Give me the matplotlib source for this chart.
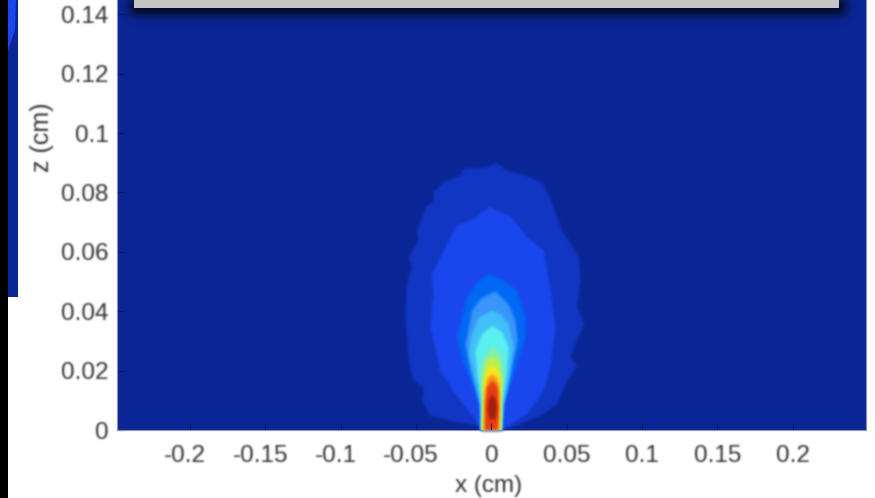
# Contour picture of the plume, x against z, with the cut-off overlay panels
import numpy as np
import matplotlib
matplotlib.use('Agg')
import matplotlib.pyplot as plt
from matplotlib.patches import Rectangle, Polygon
from matplotlib.transforms import ScaledTranslation

plt.rcParams['font.family'] = ['Liberation Sans', 'DejaVu Sans']

# Tick values and labels
x_ticks = [-0.2, -0.15, -0.1, -0.05, 0, 0.05, 0.1, 0.15, 0.2]
x_labels = ['-0.2', '-0.15', '-0.1', '-0.05', '0', '0.05', '0.1', '0.15', '0.2']
z_ticks = [0, 0.02, 0.04, 0.06, 0.08, 0.1, 0.12, 0.14]
z_labels = ['0', '0.02', '0.04', '0.06', '0.08', '0.1', '0.12', '0.14']

# Contour outlines (cm), outermost level first
x1 = [.0071, .0192, .0325, .0436, .0502, .0568, .0524, .0613, .0568, .0591, .0580, .0469, .0414,
      .0347, .0237, .0104, .0027, -.0029, -.0184, -.0206, -.0316, -.0383, -.0383, -.0427, -.0493,
      -.0482, -.0549, -.0526, -.0560, -.0571, -.0560, -.0549, -.0526, -.0449, -.0460, -.0405,
      -.0272, -.0095, -.0068]
z1 = [0, .0020, .0048, .0088, .0166, .0217, .0245, .0357, .0413, .0503, .0587, .0671, .0750,
      .0828, .0856, .0873, .0901, .0884, .0879, .0856, .0834, .0800, .0767, .0755, .0671,
      .0637, .0581, .0548, .0492, .0391, .0312, .0245, .0177, .0138, .0099, .0048,
      .0031, .0015, 0]
x2 = [.0068, .0237, .0347, .0392, .0425, .0392, .0347, .0237, .0126, .0038, -.0007, -.0073, -.0095,
      -.0228, -.0272, -.0361, -.0394, -.0383, -.0405, -.0372, -.0338, -.0239, -.0117, -.0068]
z2 = [0, .0054, .0132, .0211, .0346, .0469, .0604, .0649, .0722, .0738, .0750, .0733, .0716,
      .0688, .0649, .0559, .0525, .0458, .0346, .0278, .0200, .0121, .0043, 0]
x3 = [.0068, .0075, .0137, .0192, .0226, .0226, .0170, .0082, -.0018, -.0095, -.0161, -.0195,
      -.0228, -.0195, -.0139, -.0075, -.0068]
z3 = [0, .0076, .0166, .0256, .0312, .0379, .0469, .0503, .0525, .0497, .0447, .0379,
      .0312, .0245, .0166, .0076, 0]
x4 = [.0068, .0085, .0137, .0175, .0159, .0115, .0027, -.0073, -.0128, -.0157, -.0173, -.0139, -.0075, -.0068]
z4 = [0, .0088, .0211, .0301, .0368, .0424, .0467, .0441, .0402, .0323, .0290, .0200, .0088, 0]
x5 = [.0068, .0075, .0115, .0148, .0115, .0060, .0004, -.0084, -.0135, -.0150, -.0106, -.0068, -.0068]
z5 = [0, .0076, .0166, .0278, .0357, .0391, .0402, .0379, .0312, .0256, .0166, .0076, 0]
x6 = [.0066, .0072, .0104, .0115, .0071, .0004, -.0062, -.0106, -.0095, -.0066, -.0066]
z6 = [0, .0099, .0200, .0278, .0329, .0351, .0323, .0267, .0200, .0099, 0]
x7 = [.0062, .0068, .0086, .0071, .0011, -.0051, -.0073, -.0056, -.0062]
z7 = [0, .0088, .0189, .0250, .0284, .0245, .0189, .0076, 0]
x8 = [.0060, .0064, .0072, .0053, .0004, -.0040, -.0057, -.0056, -.0060]
z8 = [0, .0088, .0177, .0233, .0250, .0228, .0166, .0076, 0]
x9 = [.0056, .0060, .0062, .0044, .0009, -.0031, -.0050, -.0052, -.0056]
z9 = [0, .0076, .0166, .0200, .0217, .0200, .0155, .0076, 0]
x10 = [.0050, .0055, .0052, .0035, .0004, -.0028, -.0044, -.0048, -.0050]
z10 = [0, .0076, .0155, .0177, .0189, .0172, .0132, .0076, 0]
x11 = [.0042, .0048, .0046, .0030, .0004, -.0028, -.0040, -.0042, -.0042]
z11 = [0, .0065, .0132, .0155, .0166, .0144, .0088, .0020, 0]
x12 = [.0038, .0027, .0004, -.0018, -.0024, -.0013, .0027]
z12 = [.0076, .0104, .0121, .0099, .0065, .0037, .0037]

contours_x = [x1, x2, x3, x4, x5, x6, x7, x8, x9, x10, x11, x12]
contours_z = [z1, z2, z3, z4, z5, z6, z7, z8, z9, z10, z11, z12]
level_colors = ['#1237c4', '#1a48ee', '#0069f5', '#3a96fa', '#41c0fa', '#5cf0f0',
                '#84f0aa', '#bef050', '#fae61e', '#fa9614', '#e63c14', '#a01e0f']
background = '#0a2696'
text_color = '#333333'


def gaussian_blur(sigma):
    # agg filter, softens an artist the way the rescaled screenshot is soft
    pad = int(3 * sigma) + 1
    kernel = np.exp(-0.5 * (np.arange(-pad, pad + 1) / sigma) ** 2)
    kernel = kernel / kernel.sum()

    def apply(img, dpi):
        img = np.pad(img, ((pad, pad), (pad, pad), (0, 0)))
        alpha = img[:, :, 3:]
        stack = np.concatenate([img[:, :, :3] * alpha, alpha], axis=2)
        for axis in (0, 1):
            stack = np.apply_along_axis(lambda v: np.convolve(v, kernel, mode='same'), axis, stack)
        alpha = stack[:, :, 3:]
        rgb = stack[:, :, :3] / np.maximum(alpha, 1e-4)
        return np.clip(np.concatenate([rgb, alpha], axis=2), 0, 1), -pad, -pad
    return apply


soft = gaussian_blur(0.9)
W, H = 875, 498

fig = plt.figure(figsize=(W / 100, H / 100), dpi=100, facecolor='white')
ax = fig.add_axes([117 / W, (H - 430) / H, 749 / W, 445.5 / H], facecolor=background)

for xs, zs, col in zip(contours_x, contours_z, level_colors):
    patch = ax.fill(xs, zs, color=col, lw=0)[0]
    patch.set_agg_filter(gaussian_blur(1.4))

ax.set_xlim(-0.2485, 0.2487)
ax.set_ylim(0, 0.15)
ax.set_xticks(x_ticks)
ax.set_xticklabels(x_labels)
ax.set_yticks(z_ticks)
ax.set_yticklabels(z_labels)
ax.tick_params(direction='in', length=5, width=0.8, color='#08185c',
               labelsize=17.5, labelcolor=text_color)
ax.tick_params(axis='x', pad=11)
ax.tick_params(axis='y', pad=6)
for side in ax.spines.values():
    side.set_color('#8f8fb8')
    side.set_linewidth(0.8)
ax.set_xlabel('x (cm)', fontsize=17.5, color=text_color)
ax.set_ylabel('z (cm)', fontsize=18, color=text_color)
ax.xaxis.set_label_coords(0.4967, -0.1)
ax.yaxis.set_label_coords(-0.084, (430 - 137) / 445.5)

# the negative labels sit a little left of their ticks in the reference
shift_left = ScaledTranslation(-5 / 100, 0, fig.dpi_scale_trans)
for item in ax.get_xticklabels():
    if item.get_text().startswith('-'):
        item.set_transform(item.get_transform() + shift_left)

for item in ax.get_xticklabels() + ax.get_yticklabels() + [ax.xaxis.label, ax.yaxis.label]:
    item.set_agg_filter(soft)

# Overlay panels that sit on top of the figure in the screenshot
def px_rect(left, top, right, bottom, **kw):
    return Rectangle((left / W, 1 - bottom / H), (right - left) / W, (bottom - top) / H,
                     transform=fig.transFigure, lw=0, **kw)


shadow = px_rect(130, -30, 846, 14, color='black', alpha=0.95, zorder=3)
shadow.set_agg_filter(gaussian_blur(5.5))
fig.add_artist(shadow)
fig.add_artist(px_rect(134, -5, 839, 8, color='#c4c4c4', zorder=4))

fig.add_artist(px_rect(8, 0, 18, 297, color=background, zorder=3))
fig.add_artist(Polygon([(8 / W, 1), (16 / W, 1), (15 / W, 1 - 30 / H), (8 / W, 1 - 50 / H)],
                       closed=True, transform=fig.transFigure, color='#1a48ee', lw=0, zorder=3))
fig.add_artist(px_rect(0, 0, 8, H, color='black', zorder=4))

fig.savefig('out.png', dpi=100)
